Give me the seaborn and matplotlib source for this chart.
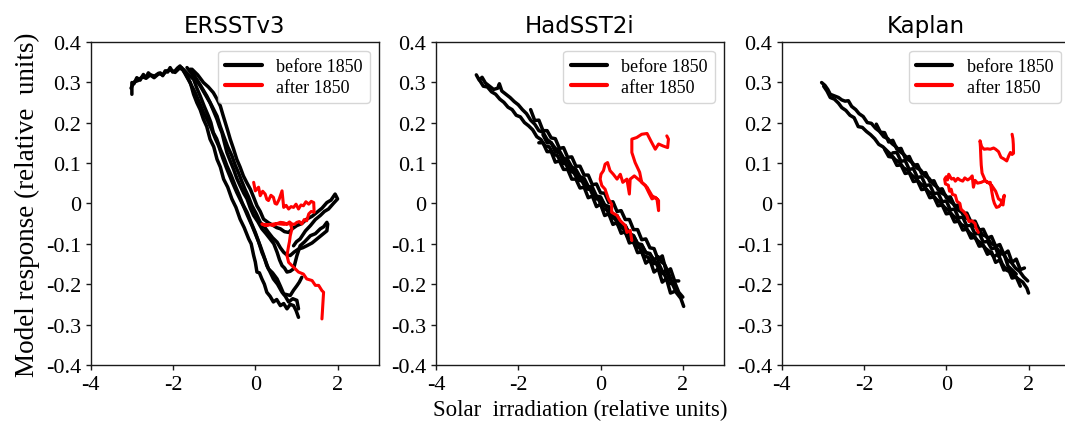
import matplotlib
matplotlib.use("Agg")
import matplotlib.pyplot as plt
import seaborn as sns

# ---------------- data ----------------
TITLES = ["ERSSTv3", "HadSST2i", "Kaplan"]
Y_TICKS = [-0.4, -0.3, -0.2, -0.1, 0.0, 0.1, 0.2, 0.3, 0.4]
Y_TICK_LABELS = ["-0.4", "-0.3", "-0.2", "-0.1", "0", "0.1", "0.2", "0.3", "0.4"]
X_TICKS = [-4, -2, 0, 2]
X_TICK_LABELS = ["-4", "-2", "0", "2"]

# ERSSTv3 – before 1850 (several passes)
ers_black_x = [
    [-3.00,-3.00,-2.95,-2.88,-2.80,-2.72,-2.66,-2.60,-2.53,-2.46,-2.38,-2.31,-2.25,-2.19,-2.13,-2.07,-2.01,-1.95,-1.89,-1.83,-1.70,-1.58,-1.50,-1.42,-1.34,-1.26,-1.18,-1.10,-1.01,-0.93,-0.85,-0.77,-0.67,-0.57,-0.47,-0.37,-0.27,-0.16,-0.10,-0.04,0.00,0.04,0.10,0.16,0.22,0.28,0.36,0.44,0.52,0.61,0.69,0.77,0.85,0.93,0.99,1.05],
    [-3.02,-2.95,-2.85,-2.75,-2.65,-2.55,-2.45,-2.35,-2.25,-2.15,-2.05,-1.95,-1.85,-1.75,-1.62,-1.50,-1.42,-1.34,-1.24,-1.14,-1.08,-1.02,-0.94,-0.85,-0.77,-0.69,-0.59,-0.49,-0.39,-0.29,-0.19,-0.08,0.02,0.12,0.20,0.28,0.36,0.44,0.54,0.65,0.73,0.81,0.91,1.01,1.05],
    [-1.66,-1.50,-1.34,-1.22,-1.10,-1.02,-0.93,-0.87,-0.81,-0.75,-0.69,-0.61,-0.53,-0.45,-0.37,-0.28,-0.20,-0.12,-0.04,0.06,0.16,0.26,0.36,0.45,0.53,0.59,0.65,0.71,0.77,0.85,0.93,1.01,1.09,1.20,1.34,1.46,1.58,1.66,1.74],
    [-1.54,-1.40,-1.26,-1.14,-1.02,-0.93,-0.85,-0.79,-0.73,-0.67,-0.61,-0.53,-0.45,-0.37,-0.29,-0.20,-0.12,-0.04,0.04,0.12,0.20,0.32,0.44,0.52,0.61,0.71,0.81,0.91,1.01,1.13,1.25,1.38,1.50,1.62,1.74,1.84,1.94,2.00,1.90,1.78,1.68,1.58,1.46,1.34,1.22,1.09,1.00,0.93],
    [-1.79,-1.62,-1.46,-1.36,-1.26,-1.16,-1.06,-0.97,-0.89,-0.79,-0.69,-0.57,-0.45,-0.33,-0.20,-0.10,0.00,0.08,0.16,0.24,0.32,0.42,0.53,0.61,0.69,0.77,0.85,0.93,1.01,1.07,1.13],
    [-1.58,-1.38,-1.18,-1.05,-0.93,-0.85,-0.77,-0.67,-0.57,-0.49,-0.41,-0.33,-0.25,-0.16,-0.08,0.02,0.12,0.22,0.32,0.42,0.53,0.61,0.69,0.77,0.85,0.95,1.05,1.15,1.25,1.38,1.50,1.62,1.74,1.76],
]
ers_black_y = [
    [0.270,0.299,0.296,0.311,0.305,0.319,0.310,0.323,0.316,0.311,0.318,0.323,0.316,0.328,0.325,0.336,0.325,0.328,0.335,0.340,0.322,0.299,0.270,0.249,0.232,0.208,0.190,0.159,0.140,0.109,0.090,0.060,0.040,0.011,-0.010,-0.039,-0.060,-0.088,-0.100,-0.129,-0.145,-0.170,-0.172,-0.187,-0.200,-0.220,-0.230,-0.244,-0.238,-0.253,-0.248,-0.261,-0.250,-0.253,-0.265,-0.282],
    [0.285,0.300,0.304,0.313,0.310,0.318,0.315,0.322,0.318,0.328,0.330,0.324,0.334,0.332,0.318,0.307,0.285,0.266,0.240,0.216,0.200,0.175,0.160,0.134,0.115,0.093,0.070,0.044,0.020,-0.006,-0.030,-0.055,-0.080,-0.105,-0.128,-0.154,-0.170,-0.187,-0.200,-0.220,-0.230,-0.244,-0.236,-0.240,-0.261],
    [0.336,0.315,0.291,0.270,0.249,0.230,0.208,0.190,0.175,0.150,0.126,0.105,0.085,0.062,0.044,0.025,0.011,-0.012,-0.030,-0.045,-0.063,-0.075,-0.088,-0.100,-0.121,-0.140,-0.154,-0.160,-0.170,-0.168,-0.162,-0.130,-0.105,-0.095,-0.080,-0.075,-0.063,-0.058,-0.047],
    [0.332,0.318,0.299,0.288,0.274,0.258,0.241,0.220,0.200,0.180,0.159,0.135,0.109,0.090,0.068,0.050,0.035,0.015,-0.006,-0.020,-0.039,-0.048,-0.055,-0.060,-0.063,-0.070,-0.072,-0.062,-0.055,-0.050,-0.039,-0.032,-0.022,-0.012,0.002,0.008,0.023,0.011,0.000,-0.014,-0.020,-0.030,-0.040,-0.055,-0.068,-0.088,-0.095,-0.105],
    [0.336,0.305,0.274,0.250,0.225,0.205,0.183,0.160,0.142,0.112,0.085,0.055,0.027,0.002,-0.022,-0.048,-0.072,-0.095,-0.121,-0.140,-0.162,-0.172,-0.187,-0.205,-0.224,-0.226,-0.228,-0.215,-0.204,-0.195,-0.183],
    [0.332,0.300,0.266,0.240,0.216,0.190,0.167,0.140,0.118,0.095,0.076,0.055,0.035,0.015,-0.006,-0.025,-0.047,-0.058,-0.072,-0.085,-0.096,-0.110,-0.121,-0.128,-0.129,-0.120,-0.113,-0.110,-0.105,-0.098,-0.088,-0.078,-0.068,-0.051],
]
ers_red_x = [-0.04,0.00,0.08,0.12,0.18,0.24,0.28,0.32,0.38,0.44,0.48,0.52,0.58,0.65,0.69,0.75,0.81,0.87,0.93,0.99,1.05,1.11,1.17,1.23,1.30,1.36,1.42,1.43,1.36,1.30,1.25,1.19,1.13,1.07,1.01,0.95,0.89,0.83,0.77,0.69,0.61,0.53,0.44,0.34,0.24,0.16,0.30,0.50,0.70,0.85,0.89,0.85,0.83,0.81,0.77,0.81,0.89,0.97,1.05,1.17,1.25,1.38,1.46,1.54,1.62,1.66,1.64,1.63,1.62]
ers_red_y = [0.052,0.031,0.040,0.019,0.030,0.023,0.010,0.007,0.020,0.015,0.000,-0.002,0.010,0.031,-0.010,-0.005,-0.014,-0.008,-0.010,-0.002,-0.014,-0.004,-0.006,0.004,-0.002,0.005,0.002,-0.022,-0.020,-0.026,-0.043,-0.040,-0.051,-0.045,-0.047,-0.052,-0.051,-0.046,-0.051,-0.048,-0.047,-0.050,-0.055,-0.052,-0.055,-0.051,-0.054,-0.050,-0.052,-0.050,-0.063,-0.080,-0.095,-0.105,-0.129,-0.146,-0.154,-0.162,-0.170,-0.175,-0.187,-0.191,-0.203,-0.203,-0.216,-0.220,-0.253,-0.270,-0.286]

# HadSST2i
had_black_x = [
    [-3.02,-2.95,-2.88,-2.80,-2.70,-2.60,-2.50,-2.46,-2.40,-2.30,-2.20,-2.10,-2.00,-1.90,-1.80,-1.70,-1.60,-1.50,-1.40,-1.30,-1.20,-1.10,-1.00,-0.90,-0.80,-0.70,-0.60,-0.50,-0.40,-0.30,-0.20,-0.10,0.00,0.10,0.20,0.30,0.40,0.50,0.60,0.70,0.80,0.90,1.00,1.10,1.20,1.30,1.40,1.50,1.60,1.70,1.80,1.90,2.00],
    [-2.93,-2.85,-2.75,-2.65,-2.55,-2.45,-2.35,-2.25,-2.15,-2.05,-1.95,-1.85,-1.75,-1.65,-1.55,-1.45,-1.35,-1.25,-1.15,-1.05,-0.95,-0.85,-0.75,-0.65,-0.55,-0.45,-0.35,-0.25,-0.15,-0.05,0.05,0.15,0.25,0.35,0.45,0.55,0.65,0.75,0.85,0.95,1.05,1.15,1.25,1.35,1.45,1.55,1.65,1.75,1.85,1.95,2.02],
    [-1.70,-1.60,-1.50,-1.40,-1.30,-1.20,-1.10,-1.00,-0.90,-0.80,-0.70,-0.60,-0.50,-0.40,-0.30,-0.20,-0.10,0.00,0.10,0.20,0.30,0.40,0.50,0.60,0.70,0.80,0.90,1.00,1.10,1.20,1.30,1.40,1.50,1.60,1.70,1.80,1.90],
    [-1.50,-1.40,-1.30,-1.20,-1.10,-1.00,-0.90,-0.80,-0.70,-0.60,-0.50,-0.40,-0.30,-0.20,-0.10,0.00,0.10,0.20,0.30,0.40,0.50,0.60,0.70,0.80,0.90,1.00,1.10,1.20,1.30,1.40,1.50,1.60,1.70,1.80],
    [-1.40,-1.30,-1.20,-1.10,-1.00,-0.90,-0.80,-0.70,-0.60,-0.50,-0.40,-0.30,-0.20,-0.10,0.00,0.10,0.20,0.30,0.40,0.50,0.60,0.70,0.80,0.90,1.00,1.10,1.20,1.30,1.40,1.48,1.55,1.62,1.70],
]
had_black_y = [
    [0.318,0.305,0.312,0.298,0.290,0.282,0.285,0.296,0.278,0.270,0.262,0.252,0.244,0.232,0.222,0.206,0.196,0.180,0.176,0.158,0.150,0.136,0.130,0.112,0.108,0.090,0.084,0.066,0.062,0.042,0.040,0.018,0.016,-0.004,-0.008,-0.028,-0.030,-0.052,-0.055,-0.076,-0.080,-0.100,-0.102,-0.122,-0.124,-0.144,-0.146,-0.168,-0.170,-0.190,-0.195,-0.220,-0.232],
    [0.303,0.290,0.288,0.276,0.270,0.258,0.250,0.238,0.232,0.218,0.214,0.200,0.192,0.182,0.165,0.158,0.142,0.140,0.122,0.118,0.100,0.098,0.080,0.076,0.058,0.055,0.036,0.034,0.012,0.010,-0.012,-0.016,-0.034,-0.038,-0.058,-0.062,-0.082,-0.086,-0.106,-0.110,-0.130,-0.133,-0.150,-0.148,-0.170,-0.176,-0.196,-0.200,-0.222,-0.235,-0.255],
    [0.232,0.205,0.206,0.180,0.180,0.162,0.160,0.136,0.138,0.114,0.115,0.092,0.092,0.070,0.070,0.046,0.048,0.026,0.025,0.002,0.004,-0.020,-0.018,-0.040,-0.040,-0.065,-0.065,-0.090,-0.088,-0.110,-0.112,-0.140,-0.130,-0.170,-0.162,-0.192,-0.192],
    [0.150,0.150,0.128,0.128,0.102,0.105,0.084,0.084,0.060,0.060,0.038,0.040,0.014,0.018,-0.008,-0.002,-0.030,-0.026,-0.052,-0.048,-0.074,-0.070,-0.098,-0.095,-0.122,-0.120,-0.148,-0.140,-0.170,-0.162,-0.195,-0.186,-0.222,-0.218],
    [0.170,0.150,0.150,0.128,0.125,0.105,0.104,0.084,0.078,0.060,0.058,0.040,0.034,0.016,0.012,-0.006,-0.010,-0.030,-0.033,-0.052,-0.056,-0.075,-0.080,-0.100,-0.104,-0.122,-0.126,-0.140,-0.132,-0.145,-0.150,-0.165,-0.185],
]
had_red_x = [0.76,0.72,0.64,0.60,0.48,0.40,0.27,0.27,0.19,0.11,0.03,-0.01,0.01,0.07,0.11,0.17,0.23,0.31,0.40,0.48,0.54,0.64,0.70,0.72,0.82,0.96,1.09,1.17,1.25,1.33,1.41,1.41,1.37,1.25,1.13,1.00,0.95,0.84,0.76,0.76,0.88,1.00,1.13,1.22,1.33,1.41,1.52,1.63,1.65,1.61]
had_red_y = [-0.092,-0.067,-0.072,-0.055,-0.043,-0.030,-0.022,-0.002,0.011,0.035,0.044,0.060,0.072,0.081,0.097,0.101,0.081,0.072,0.060,0.072,0.052,0.060,0.023,0.060,0.068,0.056,0.044,0.027,0.011,0.015,0.007,-0.018,0.011,0.019,0.040,0.052,0.077,0.101,0.126,0.159,0.163,0.171,0.173,0.155,0.134,0.147,0.142,0.138,0.159,0.167]

# Kaplan
kap_black_x = [
    [-3.03,-2.95,-2.88,-2.82,-2.72,-2.62,-2.54,-2.46,-2.38,-2.30,-2.20,-2.12,-2.02,-1.92,-1.82,-1.72,-1.62,-1.52,-1.42,-1.32,-1.22,-1.12,-1.02,-0.92,-0.82,-0.72,-0.62,-0.52,-0.42,-0.32,-0.22,-0.12,-0.02,0.08,0.18,0.28,0.38,0.48,0.58,0.68,0.78,0.88,0.98,1.08,1.18,1.28,1.38,1.48,1.58,1.68,1.78,1.88,1.98],
    [-2.98,-2.90,-2.82,-2.72,-2.62,-2.54,-2.44,-2.34,-2.24,-2.14,-2.04,-1.94,-1.84,-1.74,-1.64,-1.54,-1.44,-1.34,-1.24,-1.14,-1.04,-0.94,-0.84,-0.74,-0.64,-0.54,-0.44,-0.34,-0.24,-0.14,-0.04,0.06,0.16,0.26,0.36,0.46,0.56,0.66,0.76,0.86,0.96,1.06,1.16,1.26,1.36,1.46,1.56,1.66,1.76,1.86,1.96,2.00],
    [-1.70,-1.60,-1.50,-1.40,-1.30,-1.20,-1.10,-1.00,-0.90,-0.80,-0.70,-0.60,-0.50,-0.40,-0.30,-0.20,-0.10,0.00,0.10,0.20,0.30,0.40,0.50,0.60,0.70,0.80,0.90,1.00,1.10,1.20,1.30,1.40,1.50,1.60,1.70,1.80,1.90],
    [-1.50,-1.40,-1.30,-1.20,-1.10,-1.00,-0.90,-0.80,-0.70,-0.60,-0.50,-0.40,-0.30,-0.20,-0.10,0.00,0.10,0.20,0.30,0.40,0.50,0.60,0.70,0.80,0.90,1.00,1.10,1.20,1.30,1.40,1.50,1.60,1.70,1.80],
    [-1.30,-1.20,-1.10,-1.00,-0.90,-0.80,-0.70,-0.60,-0.50,-0.40,-0.30,-0.20,-0.10,0.00,0.10,0.20,0.30,0.40,0.50,0.60,0.70,0.80,0.90,1.00,1.10,1.20,1.28,1.35,1.42,1.50,1.60,1.70],
]
kap_black_y = [
    [0.299,0.292,0.282,0.270,0.266,0.262,0.256,0.253,0.254,0.240,0.232,0.222,0.215,0.200,0.198,0.186,0.178,0.165,0.160,0.148,0.140,0.128,0.120,0.108,0.100,0.088,0.082,0.068,0.062,0.048,0.040,0.026,0.020,0.006,-0.002,-0.016,-0.022,-0.036,-0.042,-0.056,-0.062,-0.078,-0.082,-0.098,-0.104,-0.118,-0.124,-0.140,-0.146,-0.160,-0.168,-0.182,-0.192],
    [0.290,0.278,0.262,0.258,0.248,0.237,0.230,0.218,0.212,0.190,0.188,0.178,0.170,0.160,0.146,0.140,0.130,0.120,0.108,0.102,0.088,0.082,0.070,0.062,0.050,0.042,0.030,0.022,0.010,0.002,-0.010,-0.018,-0.030,-0.038,-0.052,-0.058,-0.072,-0.080,-0.092,-0.100,-0.112,-0.120,-0.132,-0.125,-0.150,-0.165,-0.170,-0.180,-0.188,-0.195,-0.210,-0.222],
    [0.196,0.176,0.175,0.152,0.156,0.134,0.136,0.112,0.116,0.094,0.096,0.074,0.076,0.054,0.056,0.034,0.036,0.014,0.016,-0.006,-0.004,-0.026,-0.024,-0.046,-0.044,-0.066,-0.064,-0.086,-0.082,-0.106,-0.102,-0.126,-0.118,-0.146,-0.138,-0.164,-0.160],
    [0.134,0.116,0.114,0.094,0.095,0.074,0.076,0.054,0.056,0.034,0.036,0.014,0.016,-0.006,-0.004,-0.026,-0.024,-0.046,-0.044,-0.066,-0.064,-0.086,-0.084,-0.106,-0.104,-0.126,-0.120,-0.146,-0.140,-0.165,-0.160,-0.185,-0.182,-0.205],
    [0.125,0.126,0.104,0.106,0.084,0.086,0.064,0.066,0.044,0.046,0.024,0.026,0.004,0.006,-0.016,-0.014,-0.036,-0.034,-0.056,-0.054,-0.076,-0.074,-0.096,-0.094,-0.112,-0.110,-0.132,-0.120,-0.130,-0.155,-0.165,-0.175],
]
kap_red_x = [0.78,0.72,0.70,0.62,0.55,0.50,0.42,0.36,0.33,0.26,0.22,0.15,0.12,0.08,0.05,-0.02,-0.04,0.00,0.03,0.06,0.10,0.13,0.18,0.22,0.28,0.33,0.40,0.45,0.52,0.58,0.63,0.66,0.70,0.76,0.85,0.93,1.00,1.07,1.11,1.14,1.17,1.22,1.28,1.33,1.38,1.41,1.38,1.32,1.27,1.20,1.10,0.95,0.87,0.85,0.84,0.83,0.82,0.86,0.92,1.00,1.07,1.15,1.20,1.27,1.33,1.40,1.47,1.52,1.56,1.60,1.635,1.63,1.62,1.60]
kap_red_y = [-0.072,-0.060,-0.050,-0.043,-0.045,-0.030,-0.020,-0.015,0.000,0.005,0.020,0.022,0.035,0.030,0.045,0.048,0.060,0.066,0.058,0.072,0.065,0.060,0.062,0.055,0.062,0.058,0.055,0.063,0.058,0.062,0.068,0.040,0.057,0.050,0.052,0.056,0.052,0.052,0.027,0.010,0.000,-0.010,-0.008,-0.002,0.010,0.020,-0.004,0.008,0.011,0.030,0.045,0.056,0.075,0.095,0.115,0.140,0.155,0.140,0.134,0.135,0.134,0.137,0.134,0.128,0.114,0.110,0.105,0.118,0.126,0.121,0.124,0.146,0.160,0.171]

BLACK_X = [ers_black_x, had_black_x, kap_black_x]
BLACK_Y = [ers_black_y, had_black_y, kap_black_y]
RED_X = [ers_red_x, had_red_x, kap_red_x]
RED_Y = [ers_red_y, had_red_y, kap_red_y]

# ---------------- style ----------------
sns.set_style("ticks")
plt.rcParams["font.family"] = ["Liberation Serif", "DejaVu Serif"]
plt.rcParams["axes.unicode_minus"] = False
plt.rcParams["axes.edgecolor"] = "#1a1a1a"
plt.rcParams["axes.linewidth"] = 1.0
plt.rcParams["text.color"] = "black"
plt.rcParams["axes.labelcolor"] = "black"
plt.rcParams["xtick.color"] = "black"
plt.rcParams["ytick.color"] = "black"

fig = plt.figure(figsize=(10.65, 4.27), dpi=100)
lefts = [0.0852, 0.4094, 0.7340]
axes = [fig.add_axes([l, 0.1429, 0.2704, 0.757]) for l in lefts]

for i, ax in enumerate(axes):
    for j, (xs, ys) in enumerate(zip(BLACK_X[i], BLACK_Y[i])):
        sns.lineplot(x=xs, y=ys, sort=False, estimator=None, color="black",
                     lw=2.5, ax=ax, label="before 1850" if j == 0 else None)
    sns.lineplot(x=RED_X[i], y=RED_Y[i], sort=False, estimator=None, color="red",
                 lw=2.2, ax=ax, label="after 1850")
    ax.set_xlim(-4, 3)
    ax.set_ylim(-0.4, 0.4)
    ax.set_xticks(X_TICKS)
    ax.set_xticklabels(X_TICK_LABELS)
    ax.set_yticks(Y_TICKS)
    ax.set_yticklabels(Y_TICK_LABELS)
    ax.tick_params(labelsize=16, length=3.5, width=1, color="#1a1a1a", direction="out")
    ax.set_title(TITLES[i], fontsize=16.5, family="DejaVu Sans", pad=7)
    leg = ax.legend(loc="upper right", fontsize=13, frameon=True, handlelength=2.0,
                    borderpad=0.4, labelspacing=0.2, handletextpad=0.8)
    leg.get_frame().set_edgecolor("#cccccc")
    for line in leg.get_lines():
        line.set_linewidth(3.0)

axes[0].set_ylabel("Model response (relative  units)", fontsize=19.5, labelpad=4)
axes[1].set_xlabel("Solar  irradiation (relative units)", fontsize=16.5, labelpad=4)

fig.savefig("out.png", dpi=100)
